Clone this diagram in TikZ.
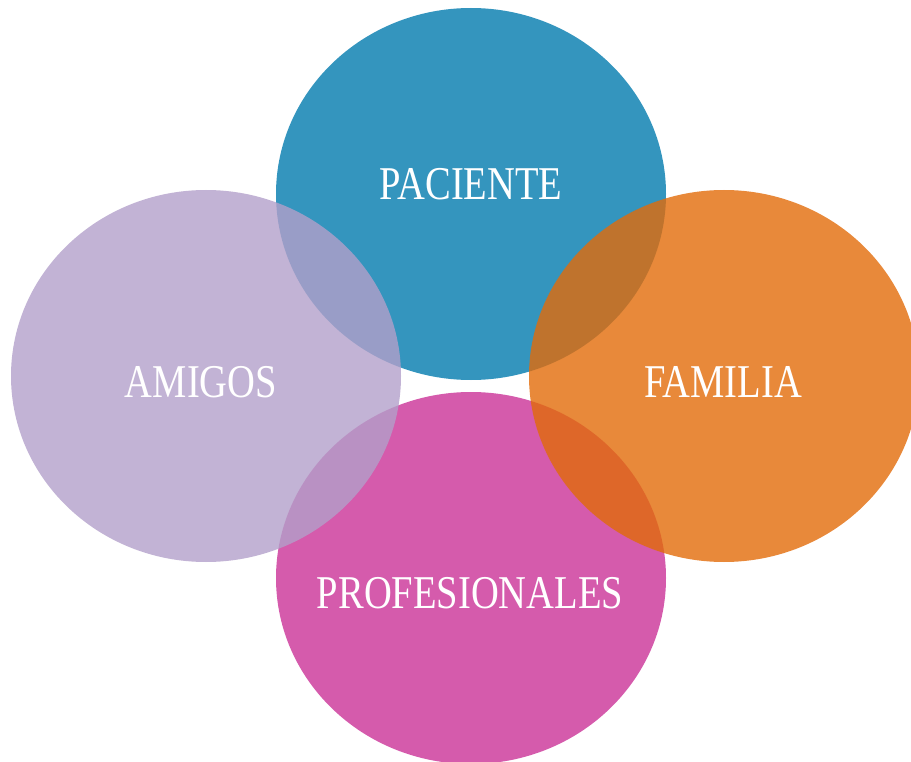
\documentclass[tikz,border=0pt]{standalone}
\usepackage{fontspec}
\setmainfont{Liberation Serif}[FakeStretch=0.82]
\usepackage{tikz}
\usetikzlibrary{shapes.geometric}
\definecolor{cpac}{RGB}{1,122,174}
\definecolor{cami}{RGB}{179,160,202}
\definecolor{cfam}{RGB}{226,107,9}
\definecolor{cpro}{RGB}{202,50,151}

\begin{document}
\begin{tikzpicture}[x=1pt, y=-1pt,
		bubble/.style={ellipse, minimum width=390pt, minimum height=372pt, inner sep=0pt, fill opacity=0.8},
		word/.style={text=white, inner sep=0pt, font=\fontsize{47}{50}\selectfont}]
		\clip (0, 0) rectangle (911, 762);

		\coordinate (P) at (471, 194);
		\coordinate (A) at (206, 376);
		\coordinate (F) at (724, 376);
		\coordinate (R) at (471, 578);

		\node[bubble, fill=cpac] (pac) at (P) {};
		\node[bubble, fill=cpro] (pro) at (R) {};
		\node[bubble, fill=cami] (ami) at (A) {};
		\node[bubble, fill=cfam] (fam) at (F) {};

		\node[word] (tpac) at (471, 184) {PACIENTE};
		\node[word] (tami) at (201, 382) {AMIGOS};
		\node[word] (tfam) at (723, 382) {FAMILIA};
		\node[word] (tpro) at (470, 593) {PROFESIONALES};
	\end{tikzpicture}
\end{document}
